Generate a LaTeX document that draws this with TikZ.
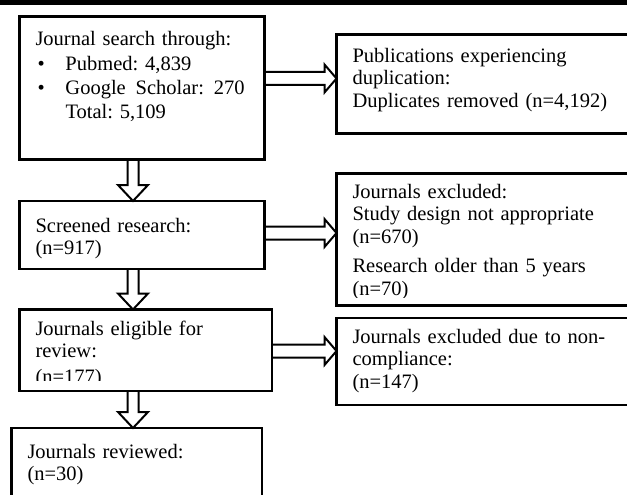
\documentclass[tikz,border=0pt]{standalone}
\usepackage{fontspec}
\setmainfont{Liberation Serif}
\usepackage{trimclip}
\usetikzlibrary{calc}

\tikzset{
    box/.style={draw, line width=2.5pt, anchor=north west, outer sep=0pt,
        inner xsep=16pt, inner ysep=0pt, align=left,
        font=\fontsize{20.5}{22.5}\selectfont\frenchspacing},
    blockarrow/.style={draw, line width=2pt, line join=miter},
}

% hollow block arrows between boxes
\newcommand{\hollowdown}[2]{%
    \draw[blockarrow] ($(#1.south -| spine)+(-5.5,0)$) -- ($(#2.north -| spine)+(-5.5,16)$) -- ++(-9.5,0)
        -- (#2.north -| spine) -- ++(15,16) -- ++(-9.5,0) -- ($(#1.south -| spine)+(5.5,0)$);}
\newcommand{\hollowright}[3]{%
    \draw[blockarrow] ($(#1.east |- #3)+(0,6.5)$) -- ($(#2.west |- #3)+(-12,6.5)$) -- ++(0,7.5)
        -- (#2.west |- #3) -- ++(-12,-14) -- ++(0,7.5) -- ($(#1.east |- #3)+(0,-6.5)$);}

\begin{document}
\begin{tikzpicture}[x=1pt, y=1pt]
    \useasboundingbox (0, 0) rectangle (627, -495);
    \clip (0, 0) rectangle (627, -495);
    \fill[black] (0, 0) rectangle (627, -5);

    \coordinate (spine) at (133, 0);
    \coordinate (rowa) at (0, -78.5);
    \coordinate (rowb) at (0, -233);
    \coordinate (rowc) at (0, -351);

    % left column
    \node[box, text width=213pt, text height=29.5pt, text depth=113.5pt] (search) at (19.5, -16.5) {Journal search through:\\[2pt]
        \makebox[30pt][l]{\hspace{2pt}•}Pubmed: 4,839\\[2pt]
        \mbox{\makebox[30pt][l]{\hspace{2pt}•}Google\hspace{3pt} Scholar:\hspace{3pt} 270}\\[1pt]
        \hspace*{30pt}Total: 5,109};
    \node[box, text width=213pt, text height=31pt, text depth=37pt] (screen) at (19.5, -201) {Screened research:\\(n=917)};
    \node[box, text width=220.5pt, text height=25.5pt, text depth=56pt] (elig) at (19.5, -309.5) {Journals eligible for\\review:\\\clipbox{0pt 7.5pt 0pt 0pt}{(n=177)}};
    \node[box, text width=218.5pt, text height=30pt, text depth=100pt] (reviewed) at (11.5, -428) {Journals reviewed:\\(n=30)};

    % right column
    \node[box, text width=298pt, text height=28pt, text depth=71pt] (dup) at (336.5, -34.5) {Publications experiencing\\duplication:\\Duplicates removed (n=4,192)};
    \node[box, text width=298pt, text height=24.5pt, text depth=107.5pt] (excl) at (336.5, -173.5) {Journals excluded:\\Study design not appropriate\\(n=670)\\[7pt]Research older than 5 years\\\clipbox{0pt 2pt 0pt 0pt}{(n=70)}};
    \node[box, text width=298pt, text height=25pt, text depth=62pt] (noncomp) at (336.5, -318) {Journals excluded due to non-\\compliance:\\(n=147)};

    \hollowdown{search}{screen}
    \hollowdown{screen}{elig}
    \hollowdown{elig}{reviewed}
    \hollowright{search}{dup}{rowa}
    \hollowright{screen}{excl}{rowb}
    \hollowright{elig}{noncomp}{rowc}
\end{tikzpicture}
\end{document}
